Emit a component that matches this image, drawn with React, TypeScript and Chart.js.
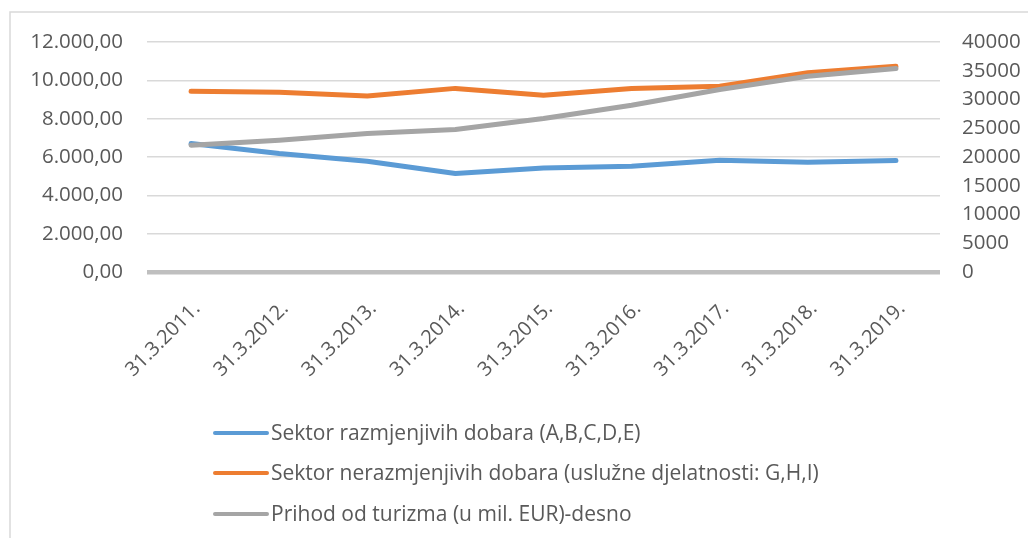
import React, { useEffect, useRef } from "react";
import { Chart, registerables } from "chart.js";

Chart.register(...registerables);

const categories = [
  "31.3.2011.", "31.3.2012.", "31.3.2013.", "31.3.2014.", "31.3.2015.",
  "31.3.2016.", "31.3.2017.", "31.3.2018.", "31.3.2019.",
];
const tradableSector = [6700, 6180, 5780, 5140, 5430, 5520, 5830, 5730, 5820];
const nonTradableSector = [9430, 9375, 9180, 9580, 9220, 9570, 9690, 10400, 10730];
const tourismRevenue = [22060, 22930, 24090, 24780, 26700, 29000, 31730, 34040, 35380];

const seriesLabels = [
  "Sektor razmjenjivih dobara (A,B,C,D,E)",
  "Sektor nerazmjenjivih dobara (uslužne djelatnosti: G,H,I)",
  "Prihod od turizma (u mil. EUR)-desno",
];
const seriesColors = ["#5b9bd5", "#ed7d31", "#a5a5a5"];

const FONT = "'Open Sans', 'Liberation Sans', sans-serif";
const TEXT = "#595959";

function fmtLeft(v: number): string {
  const fixed = Math.abs(v).toFixed(2);
  const [intPart, dec] = fixed.split(".");
  const withDots = intPart.replace(/\B(?=(\d{3})+(?!\d))/g, ".");
  return withDots + "," + dec;
}

const framePlugin = {
  id: "frame",
  beforeDraw(chart: any) {
    const ctx = chart.ctx;
    ctx.save();
    ctx.fillStyle = "#ffffff";
    ctx.fillRect(0, 0, chart.width, chart.height);
    ctx.strokeStyle = "#d9d9d9";
    ctx.lineWidth = 1.5;
    ctx.beginPath();
    ctx.moveTo(10, chart.height);
    ctx.lineTo(10, 12);
    ctx.lineTo(chart.width, 12);
    ctx.stroke();
    ctx.restore();
  },
};

const legendPlugin = {
  id: "customLegend",
  afterDraw(chart: any) {
    const ctx = chart.ctx;
    const rows = [433, 473, 514];
    ctx.save();
    ctx.font = `21px ${FONT}`;
    ctx.textBaseline = "middle";
    ctx.textAlign = "left";
    seriesLabels.forEach((label, i) => {
      const y = rows[i];
      ctx.strokeStyle = seriesColors[i];
      ctx.lineWidth = 4;
      ctx.lineCap = "round";
      ctx.beginPath();
      ctx.moveTo(215, y);
      ctx.lineTo(267, y);
      ctx.stroke();
      ctx.fillStyle = TEXT;
      ctx.fillText(label, 271, y + 1);
    });
    ctx.restore();
  },
};

export default function App() {
  const canvasRef = useRef<HTMLCanvasElement | null>(null);

  useEffect(() => {
    if (!canvasRef.current) return;
    const common = {
      borderWidth: 5,
      pointRadius: 0,
      borderCapStyle: "round",
      borderJoinStyle: "round",
    };
    const chart = new Chart(canvasRef.current, {
      type: "line",
      data: {
        labels: categories,
        datasets: [
          {
            ...common,
            label: seriesLabels[0],
            data: tradableSector,
            borderColor: seriesColors[0],
            backgroundColor: seriesColors[0],
            yAxisID: "y",
            order: 2,
          },
          {
            ...common,
            label: seriesLabels[1],
            data: nonTradableSector,
            borderColor: seriesColors[1],
            backgroundColor: seriesColors[1],
            yAxisID: "y",
            order: 1,
          },
          {
            ...common,
            label: seriesLabels[2],
            data: tourismRevenue,
            borderColor: seriesColors[2],
            backgroundColor: seriesColors[2],
            yAxisID: "y1",
            order: 0,
          },
        ] as any,
      },
      options: {
        animation: false,
        responsive: true,
        maintainAspectRatio: false,
        layout: { padding: { left: 0, right: 0, top: 42, bottom: 0 } },
        plugins: {
          legend: { display: false },
          tooltip: { enabled: false },
          title: { display: false },
        },
        scales: {
          x: {
            type: "category",
            offset: true,
            grid: { display: false, drawTicks: false },
            border: { display: false },
            ticks: {
              minRotation: 45,
              maxRotation: 45,
              padding: 25,
              labelOffset: 6,
              color: TEXT,
              font: { family: FONT, size: 20 },
            },
            afterFit(scale: any) {
              scale.height = 266;
            },
          },
          y: {
            position: "left",
            min: 0,
            max: 12000,
            grid: {
              drawTicks: false,
              color: (c: any) => (c.tick && c.tick.value === 0 ? "#bfbfbf" : "#d9d9d9"),
              lineWidth: (c: any) => (c.tick && c.tick.value === 0 ? 4.5 : 1.5),
            },
            border: { display: false },
            ticks: {
              stepSize: 2000,
              padding: 24,
              color: TEXT,
              font: { family: FONT, size: 20.5 },
              callback: (v: any) => fmtLeft(Number(v)),
            },
            afterFit(scale: any) {
              scale.width = 147;
            },
          },
          y1: {
            position: "right",
            min: 0,
            max: 40000,
            grid: { display: false, drawTicks: false },
            border: { display: false },
            ticks: {
              stepSize: 5000,
              padding: 22,
              color: TEXT,
              font: { family: FONT, size: 20.5 },
              callback: (v: any) => String(v),
            },
            afterFit(scale: any) {
              scale.width = 88;
            },
          },
        },
      },
      plugins: [framePlugin, legendPlugin],
    });
    return () => chart.destroy();
  }, []);

  return (
    <div style={{ position: "fixed", left: 0, top: 0, width: 1028, height: 538, background: "#fff" }}>
      <canvas ref={canvasRef} />
    </div>
  );
}
